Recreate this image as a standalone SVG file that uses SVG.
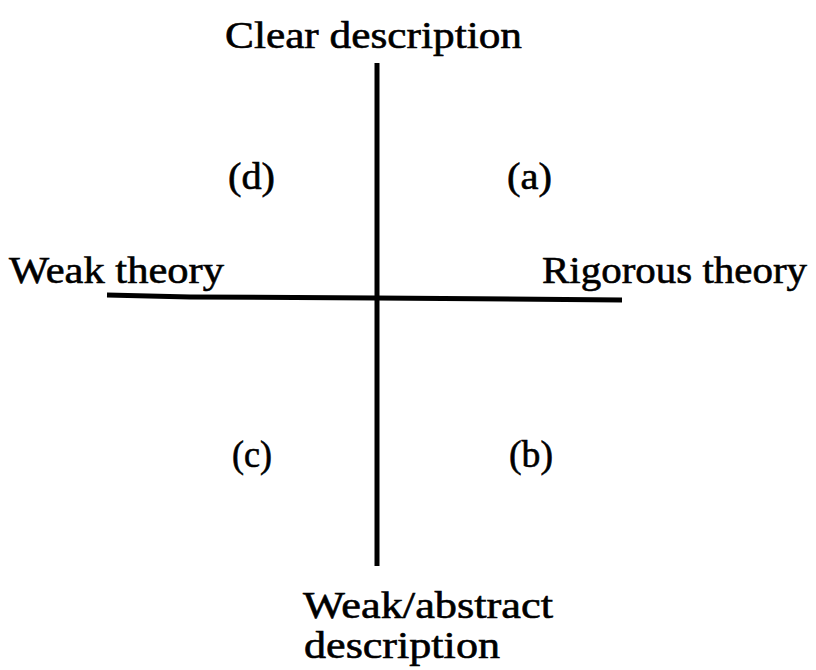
<svg xmlns="http://www.w3.org/2000/svg" width="816" height="670" viewBox="0 0 816 670">
<style>
.t{font-family:"Liberation Serif","Times New Roman",serif;font-size:38px;fill:#000;stroke:#000;stroke-width:0.6}
.ax{stroke:#000;stroke-width:5;fill:none;stroke-linecap:butt}
</style>
<rect width="816" height="670" fill="#fff"/>
<g id="connectors">
<path class="ax" d="M377,63 L377,566"/>
<path class="ax" d="M107,295 L190,297 L376,298 L622,300"/>
</g>
<g id="top"><text class="t" x="225" y="48" textLength="297" lengthAdjust="spacingAndGlyphs">Clear description</text></g>
<g id="left"><text class="t" x="9" y="283" textLength="215" lengthAdjust="spacingAndGlyphs">Weak theory</text></g>
<g id="right"><text class="t" x="542" y="283" textLength="265" lengthAdjust="spacingAndGlyphs">Rigorous theory</text></g>
<g id="d"><text class="t" x="228" y="189" textLength="47" lengthAdjust="spacingAndGlyphs">(d)</text></g>
<g id="a"><text class="t" x="507" y="189" textLength="45" lengthAdjust="spacingAndGlyphs">(a)</text></g>
<g id="c"><text class="t" x="232" y="467" textLength="40" lengthAdjust="spacingAndGlyphs">(c)</text></g>
<g id="b"><text class="t" x="509" y="467" textLength="44" lengthAdjust="spacingAndGlyphs">(b)</text></g>
<g id="bottom">
<text class="t" x="303" y="618" textLength="250" lengthAdjust="spacingAndGlyphs">Weak/abstract</text>
<text class="t" x="304" y="658" textLength="196" lengthAdjust="spacingAndGlyphs">description</text>
</g>
</svg>
